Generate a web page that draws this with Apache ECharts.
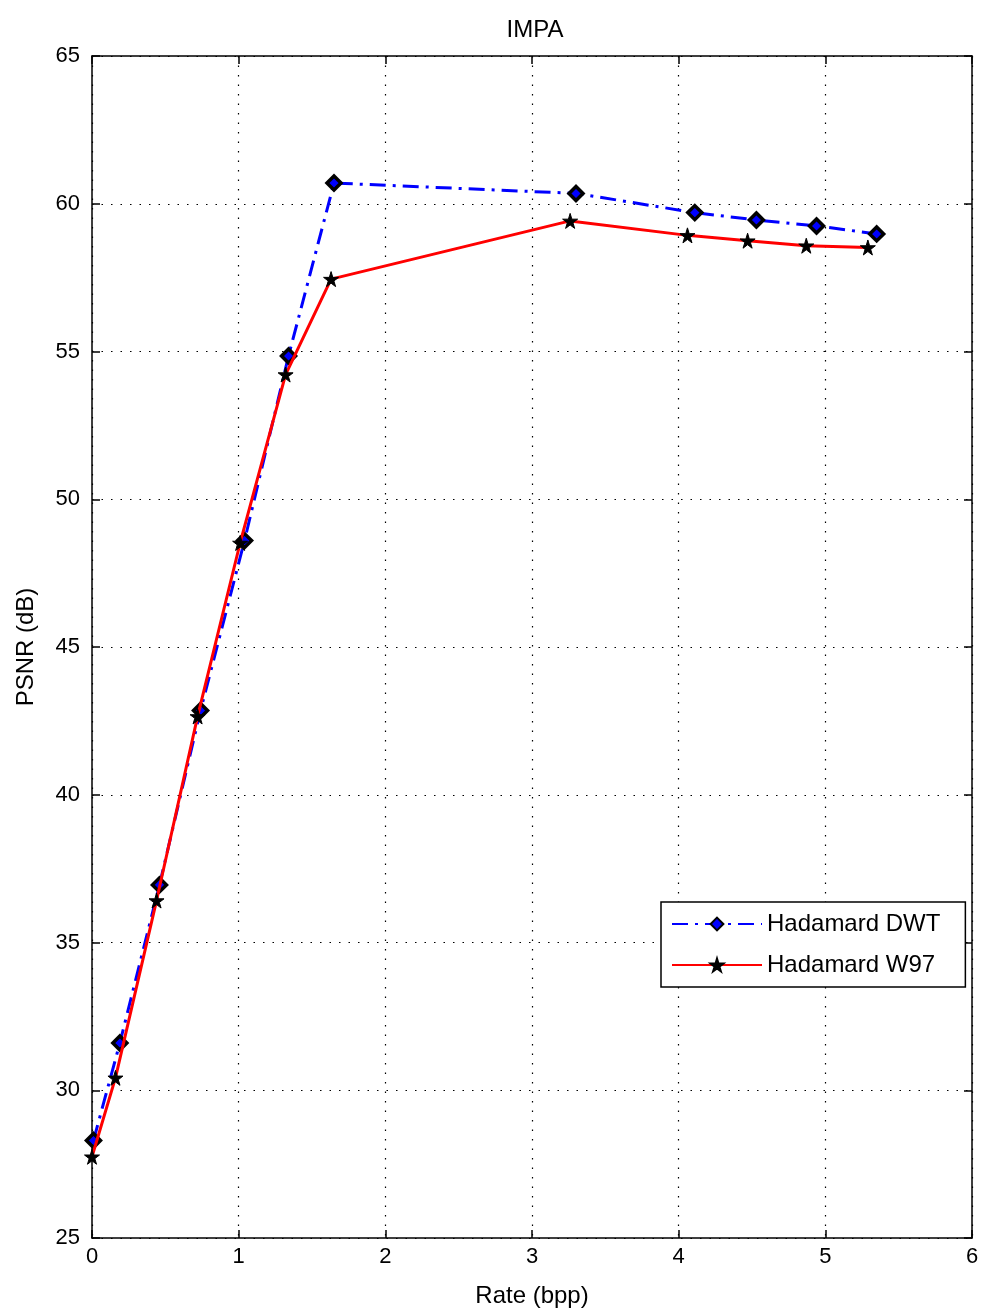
<!DOCTYPE html>
<html>
<head>
<meta charset="utf-8">
<script src="https://cdn.jsdelivr.net/npm/echarts@6/dist/echarts.min.js"></script>
<style>html,body{margin:0;padding:0;background:#fff;}#chart{width:984px;height:1315px;}</style>
</head>
<body>
<div id="chart"></div>
<script>
const titleText = 'IMPA';
const xName = 'Rate (bpp)';
const yName = 'PSNR (dB)';
const seriesNames = ['Hadamard DWT', 'Hadamard W97'];
const dwtX = [0.01, 0.19, 0.46, 0.74, 1.04, 1.34, 1.65, 3.30, 4.11, 4.53, 4.94, 5.35];
const dwtY = [28.3, 31.6, 36.95, 42.85, 48.6, 54.85, 60.7, 60.35, 59.7, 59.45, 59.25, 58.98];
const w97X = [0.0, 0.16, 0.44, 0.72, 1.01, 1.32, 1.63, 3.26, 4.06, 4.47, 4.87, 5.29];
const w97Y = [27.75, 30.42, 36.42, 42.65, 48.52, 54.22, 57.45, 59.42, 58.93, 58.75, 58.58, 58.52];

const FONT = 'Liberation Sans, Arial, sans-serif';
const star = 'path://M50,0 L61,35 L98,35 L68,57 L79,91 L50,70 L21,91 L32,57 L2,35 L39,35 Z';

const chart = echarts.init(document.getElementById('chart'), null, {renderer: 'canvas'});
const axisCommon = {
  axisLine: {show: true, onZero: false, lineStyle: {color: '#000', width: 1.5}},
  axisTick: {show: true, inside: true, length: 8, lineStyle: {color: '#000', width: 1.5}},
};
chart.setOption({
  animation: false,
  backgroundColor: '#fff',
  title: {text: titleText, left: 530, top: 13, textAlign: 'center',
    textStyle: {fontFamily: FONT, fontSize: 24, fontWeight: 'normal', color: '#000'}},
  grid: {left: 92, right: 12, top: 56, bottom: 77, containLabel: false},
  legend: {
    orient: 'vertical', left: 661, top: 902,
    padding: [10, 25, 10, 10], itemWidth: 90, itemHeight: 16, itemGap: 17,
    borderColor: '#000', borderWidth: 1.5, backgroundColor: '#fff',
    textStyle: {fontFamily: FONT, fontSize: 24, color: '#000'},
    data: seriesNames
  },
  xAxis: [
    Object.assign({type: 'value', min: 0, max: 6, interval: 1, position: 'bottom',
      name: xName, nameLocation: 'middle', nameGap: 46,
      nameTextStyle: {fontFamily: FONT, fontSize: 24, color: '#000'},
      axisLabel: {fontFamily: FONT, fontSize: 22, color: '#000', margin: 8},
      splitLine: {show: true, lineStyle: {color: '#000', width: 1.2, type: [1.5, 8]}}}, axisCommon),
    Object.assign({type: 'value', min: 0, max: 6, interval: 1, position: 'top',
      axisLabel: {show: false}, splitLine: {show: false}}, axisCommon)
  ],
  yAxis: [
    Object.assign({type: 'value', min: 25, max: 65, interval: 5, position: 'left',
      name: yName, nameLocation: 'middle', nameGap: 54,
      nameTextStyle: {fontFamily: FONT, fontSize: 24, color: '#000'},
      axisLabel: {fontFamily: FONT, fontSize: 22, color: '#000', margin: 12},
      splitLine: {show: true, lineStyle: {color: '#000', width: 1.2, type: [1.5, 8]}}}, axisCommon),
    Object.assign({type: 'value', min: 25, max: 65, interval: 5, position: 'right',
      axisLabel: {show: false}, splitLine: {show: false}}, axisCommon)
  ],
  series: [
    {name: seriesNames[0], type: 'line', xAxisIndex: 0, yAxisIndex: 0,
      data: dwtX.map((x, i) => [x, dwtY[i]]),
      lineStyle: {color: '#0000ff', width: 3, type: [16, 7, 3, 7]},
      symbol: 'diamond', symbolSize: 14,
      itemStyle: {color: '#0000ff', borderColor: '#000', borderWidth: 3.5},
      z: 2},
    {name: seriesNames[1], type: 'line', xAxisIndex: 0, yAxisIndex: 0,
      data: w97X.map((x, i) => [x, w97Y[i]]),
      lineStyle: {color: '#ff0000', width: 3, type: 'solid'},
      symbol: star, symbolSize: 15,
      itemStyle: {color: '#000', borderColor: '#000', borderWidth: 1},
      z: 3}
  ]
});
</script>
</body>
</html>
